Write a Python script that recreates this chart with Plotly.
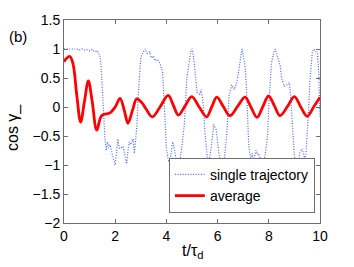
import plotly.graph_objects as go

# average curve (red)
avg_t = [0, 0.1, 0.23, 0.35, 0.5, 0.65, 0.8, 0.95, 1.1, 1.28, 1.47, 1.8, 2.0, 2.19, 2.35, 2.5, 2.68, 2.84,
         3.03, 3.2, 3.45, 3.75, 4.07, 4.27, 4.47, 4.73, 4.99, 5.28, 5.57, 5.77, 5.97, 6.22, 6.48, 6.78,
         7.07, 7.3, 7.54, 7.76, 7.99, 8.22, 8.44, 8.73, 9.0, 9.25, 9.5, 9.75, 10.0]
avg_v = [0.78, 0.84, 0.87, 0.75, 0.2, -0.26, 0.1, 0.45, 0.1, -0.4, -0.15, -0.1, 0.0, 0.15, -0.05, -0.28, -0.05, 0.14,
         0.08, -0.03, -0.17, 0.0, 0.2, 0.03, -0.14, 0.02, 0.18, 0.0, -0.17, 0.0, 0.17, 0.01, -0.15, 0.01,
         0.17, 0.0, -0.18, 0.0, 0.19, 0.02, -0.15, 0.01, 0.18, 0.0, -0.16, 0.0, 0.17]

# single trajectory (blue dotted)
traj_t = [0, 0.1, 0.2, 0.3, 0.4, 0.5, 0.6, 0.7, 0.8, 0.9, 1.0, 1.1, 1.2, 1.3, 1.35, 1.4, 1.45, 1.5, 1.55,
          1.6, 1.65, 1.7, 1.75, 1.8, 1.9, 2.0, 2.05, 2.1, 2.15, 2.2, 2.3, 2.4, 2.45, 2.5, 2.55, 2.6, 2.7,
          2.75, 2.8, 2.85, 2.9, 2.95, 3.0, 3.1, 3.17, 3.25, 3.35, 3.4, 3.5, 3.55, 3.65, 3.75, 3.85, 3.9,
          3.95, 4.0, 4.05, 4.1, 4.15, 4.2, 4.25, 4.3, 4.35, 4.4, 4.5, 4.6, 4.7, 4.75, 4.8, 4.9, 4.95, 5.0,
          5.05, 5.1, 5.15, 5.2, 5.3, 5.35, 5.4, 5.45, 5.5, 5.55, 5.6, 5.65, 5.75, 5.85, 5.95, 6.05, 6.15,
          6.25, 6.35, 6.45, 6.55, 6.65, 6.75, 6.85, 6.95, 7.0, 7.07, 7.12, 7.18, 7.22, 7.3, 7.35, 7.4, 7.5,
          7.55, 7.6, 7.7, 7.75, 7.85, 7.95, 8.0, 8.05, 8.1, 8.2, 8.25, 8.35, 8.45, 8.5, 8.6, 8.7, 8.8, 8.85,
          8.9, 8.95, 9.0, 9.1, 9.15, 9.2, 9.3, 9.35, 9.4, 9.45, 9.5, 9.55, 9.6, 9.65, 9.7, 9.75, 9.85, 9.9,
          9.95, 10.0]
traj_v = [1.0, 1.0, 0.99, 1.0, 0.99, 1.0, 0.98, 1.0, 0.98, 0.99, 0.97, 0.99, 0.95, 0.97, 0.92, 0.9, 0.7, 0.3, -0.2,
          -0.55, -0.75, -0.6, -0.7, -0.65, -0.85, -1.0, -0.8, -0.55, -0.7, -0.72, -0.68, -0.9, -0.98, -0.75, -0.6, -0.65, -0.55,
          -0.8, -0.6, -0.3, 0.2, 0.6, 0.85, 0.95, 1.0, 0.92, 0.95, 0.85, 0.88, 0.8, 0.82, 0.75, 0.6, 0.2,
          -0.3, -0.7, -0.85, -0.95, -0.9, -0.75, -0.6, -0.7, -0.85, -0.95, -1.0, -0.7, -0.3, 0.1, 0.5, 0.8, 0.95, 1.0,
          0.9, 0.7, 0.45, 0.25, 0.22, 0.3, 0.18, 0.0, -0.4, -0.7, -0.9, -1.0, -0.7, -0.3, -0.4, -0.8, -1.0,
          -0.95, -0.5, 0.2, 0.38, 0.3, 0.42, 0.7, 1.0, 0.9, 0.72, 0.4, -0.2, -0.7, -0.9, -0.8, -0.95, -0.75,
          -0.82, -0.8, -0.95, -1.0, -0.85, -0.5, 0.0, 0.4, 0.75, 0.95, 1.0, 0.85, 0.7, 0.5, 0.36, 0.38, 0.42, 0.2,
          -0.2, -0.6, -0.85, -0.95, -1.0, -0.8, -0.72, -0.8, -0.9, -0.8, -0.5, -0.1, 0.4, 0.75, 0.95, 1.0, 0.95, 0.92,
          0.6, -0.17]

x_ticks = [0, 2, 4, 6, 8, 10]
y_ticks = [1.5, 1, 0.5, 0, -0.5, -1, -1.5, -2]
y_tick_text = ["1.5", "1", "0.5", "0", "\u22120.5", "\u22121", "\u22121.5", "\u22122"]

FONT = "Liberation Sans, Arial, sans-serif"
W, H = 354, 267
ML, MR, MT, MB = 64, 34, 20, 44
pw, ph = W - ML - MR, H - MT - MB


def px_x(x):
    return (x - ML) / pw


def px_y(y):
    return (H - MB - y) / ph


fig = go.Figure()
fig.add_trace(go.Scatter(x=traj_t, y=traj_v, mode="lines", name="single trajectory",
                         line=dict(color="rgb(70,100,255)", width=1.2, dash="1px,1.6px")))
fig.add_trace(go.Scatter(x=avg_t, y=avg_v, mode="lines", name="average", line_shape="spline",
                         line=dict(color="rgb(255,0,0)", width=2.8)))

axis_common = dict(showline=True, linecolor="rgb(110,110,110)", linewidth=1, mirror="ticks",
                   ticks="inside", ticklen=4, tickcolor="rgb(110,110,110)", showgrid=False,
                   zeroline=False, tickfont=dict(family=FONT, size=14, color="black"))

fig.update_layout(
    width=W, height=H,
    margin=dict(l=ML, r=MR, t=MT, b=MB),
    paper_bgcolor="white", plot_bgcolor="white",
    font=dict(family=FONT, size=14, color="black"),
    xaxis=dict(range=[0, 10], tickvals=x_ticks, ticktext=[str(v) for v in x_ticks], **axis_common),
    yaxis=dict(range=[-2, 1.5], tickvals=y_ticks, ticktext=y_tick_text, **axis_common),
    showlegend=True,
    legend=dict(x=0.98, y=0.05, xanchor="right", yanchor="bottom", bgcolor="white",
                bordercolor="rgb(110,110,110)", borderwidth=1, font=dict(family=FONT, size=14),
                itemwidth=30, tracegroupgap=0),
    annotations=[
        dict(text="(b)", x=px_x(18), y=px_y(36), xref="paper", yref="paper", showarrow=False,
             xanchor="center", yanchor="middle", font=dict(family=FONT, size=15)),
        dict(text="t/\u03c4<sub>d</sub>", x=px_x(192), y=px_y(240), xref="paper", yref="paper",
             xanchor="center", yanchor="top", showarrow=False, font=dict(family=FONT, size=16)),
        dict(text="cos \u03b3_", x=px_x(13), y=px_y(128), xref="paper", yref="paper", textangle=-90,
             xanchor="center", yanchor="middle", showarrow=False, font=dict(family=FONT, size=16)),
    ],
)

fig.write_html("out.html", config={"displayModeBar": False},
               post_script="document.body.style.margin='0';")
